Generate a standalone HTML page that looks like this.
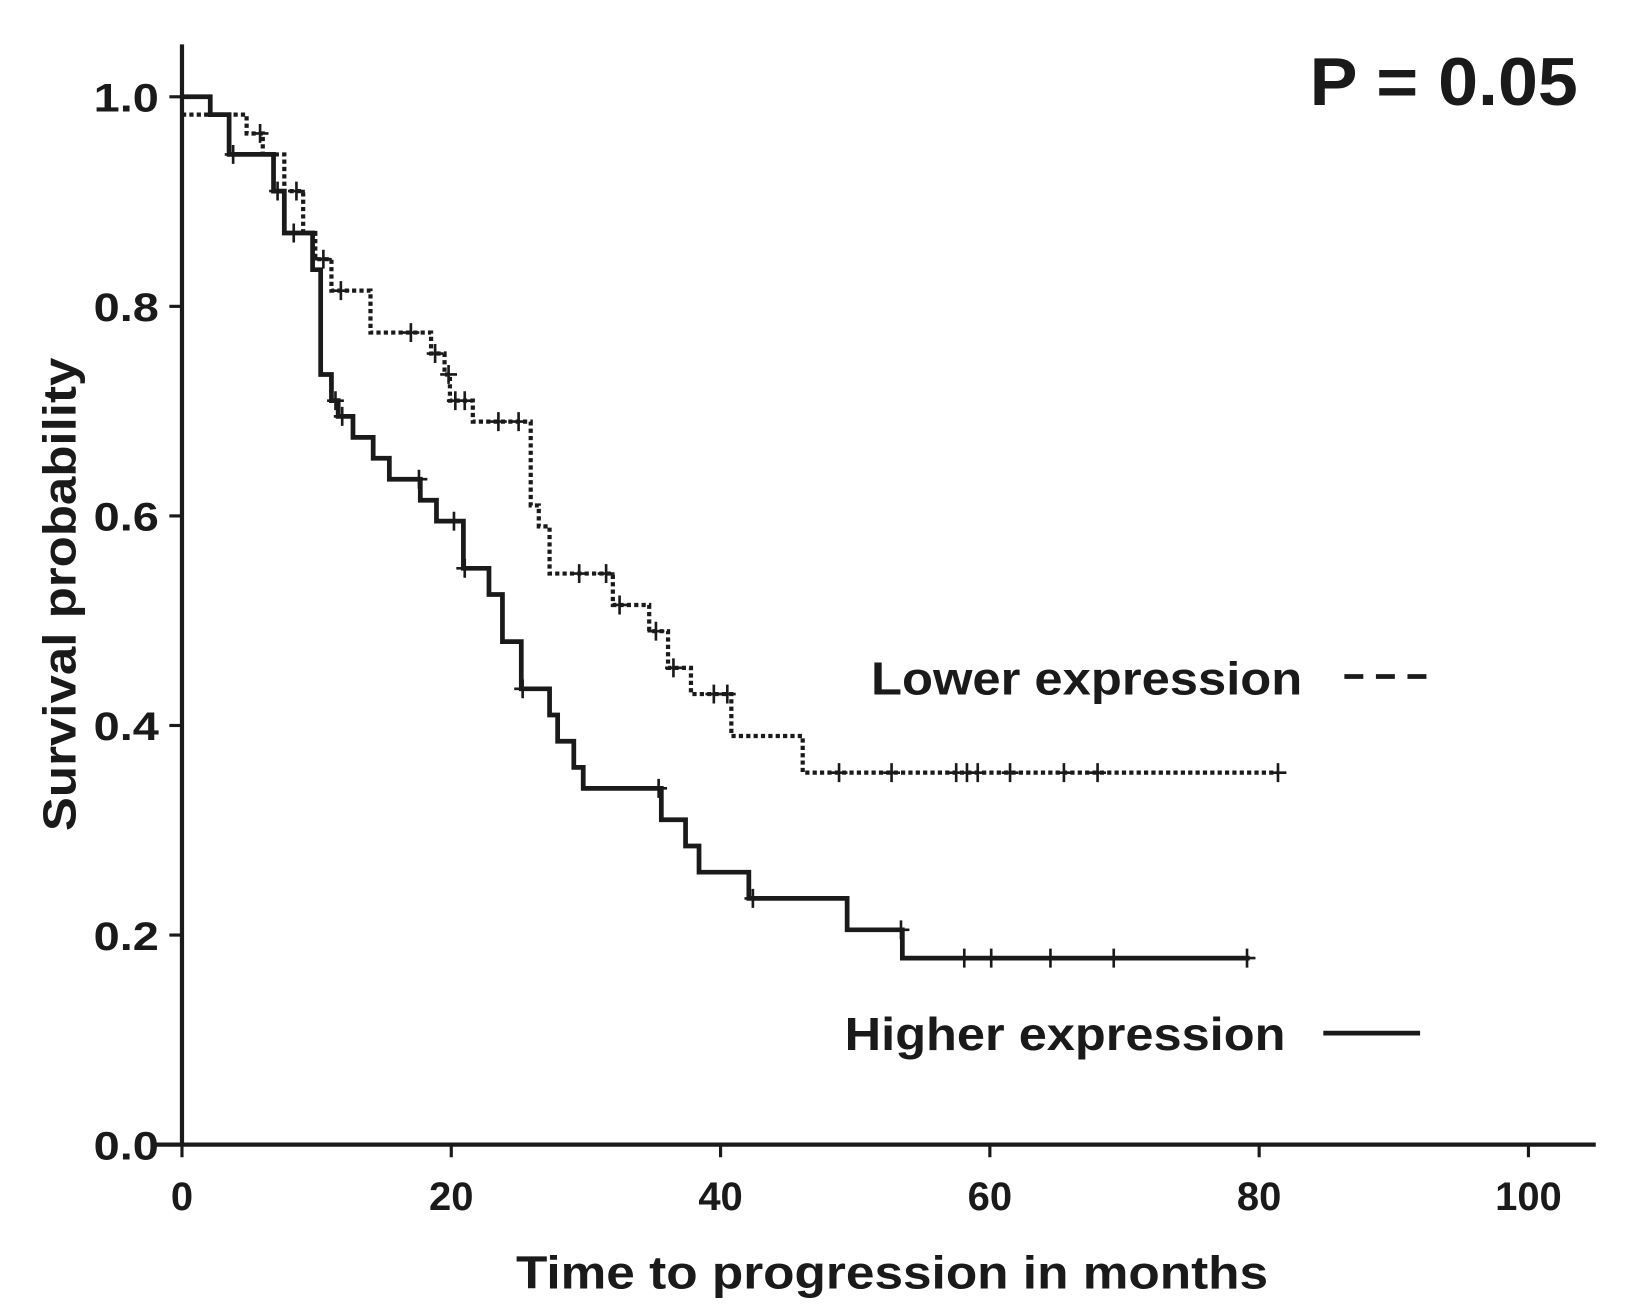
<!DOCTYPE html>
<html><head><meta charset="utf-8"><style>
html,body{margin:0;padding:0;background:#fff;}
svg{display:block;}
text{font-family:"Liberation Sans",Arial,sans-serif;fill:#1a1a1a;}
</style></head><body>
<svg id="chart" width="1641" height="1314" viewBox="0 0 1560 1249" preserveAspectRatio="none" xmlns="http://www.w3.org/2000/svg">
<g id="axes"></g>
<g id="series"></g>
<text x="1245" y="100" font-size="64" font-weight="bold" textLength="255" lengthAdjust="spacingAndGlyphs">P = 0.05</text>
<text transform="translate(72,565) rotate(-90)" text-anchor="middle" font-size="44" font-weight="bold" textLength="450" lengthAdjust="spacingAndGlyphs">Survival probability</text>
<text x="848" y="1225" text-anchor="middle" font-size="44" font-weight="bold" textLength="715" lengthAdjust="spacingAndGlyphs">Time to progression in months</text>
<g>
<text x="828" y="660" font-size="44" font-weight="bold" textLength="410" lengthAdjust="spacingAndGlyphs">Lower expression</text>
<line x1="1278" y1="643" x2="1365" y2="643" stroke="#1a1a1a" stroke-width="4.5" stroke-dasharray="18,12"/>
</g>
<g>
<text x="803" y="998" font-size="44" font-weight="bold" textLength="419" lengthAdjust="spacingAndGlyphs">Higher expression</text>
<line x1="1258" y1="982" x2="1350" y2="982" stroke="#1a1a1a" stroke-width="4.5"/>
</g>
</svg>
<script>
const xTicks=[0,20,40,60,80,100];
const yTicks=[0,0.2,0.4,0.6,0.8,1.0];
const yTickLabels=["0.0","0.2","0.4","0.6","0.8","1.0"];
const higherTimes=[0,2.1,3.5,6.8,7.6,9.7,10.3,11.1,11.6,12.7,14.2,15.4,17.7,18.9,20.9,22.8,23.8,25.2,27.3,27.9,29.1,29.8,35.6,37.4,38.4,42.1,49.4,53.5];
const higherSurv=[1.0,0.983,0.945,0.91,0.87,0.835,0.735,0.71,0.695,0.675,0.655,0.635,0.615,0.595,0.55,0.525,0.48,0.435,0.41,0.385,0.36,0.34,0.31,0.285,0.26,0.235,0.205,0.178];
const higherEnd=79.3;
const higherCensor=[3.8,7.1,8.3,11.4,11.9,17.6,20.2,21,25.3,35.4,42.4,53.4,58.1,60.1,64.5,69.2,79.1];
const lowerTimes=[0,4.8,6,7.6,9,9.9,11.1,14,18.5,19.5,19.9,21.6,25.9,26.5,27.3,32,34.7,36.1,37.8,40.8,46.1];
const lowerSurv=[0.983,0.965,0.945,0.91,0.87,0.845,0.815,0.775,0.755,0.735,0.71,0.69,0.61,0.59,0.545,0.515,0.49,0.455,0.43,0.39,0.355];
const lowerEnd=81.4;
const lowerCensor=[5.8,8.5,10.5,11.8,17,18.8,19.8,20.3,21,23.5,25,29.5,31.5,32.5,35.2,36.5,39.5,40.5,48.8,52.7,57.5,58.3,59.1,61.5,65.5,68,81.4];

const NS="http://www.w3.org/2000/svg";
const X=t=>173+t*12.8, Y=s=>1088-s*996;
function mk(tag,attrs,parent){const e=document.createElementNS(NS,tag);for(const k in attrs)e.setAttribute(k,attrs[k]);parent.appendChild(e);return e;}
const axes=document.getElementById('axes'), series=document.getElementById('series');
let e=mk('line',{x1:X(0),y1:Y(1.05),x2:X(0),y2:Y(0),stroke:'#1a1a1a','stroke-width':4},axes);


e=mk('line',{x1:X(-2),y1:Y(0),x2:X(105),y2:Y(0),stroke:'#1a1a1a','stroke-width':4},axes);


xTicks.forEach(t=>{
 mk('line',{x1:X(t),y1:Y(0),x2:X(t),y2:Y(0)+12,stroke:'#1a1a1a','stroke-width':3},axes);
 const tx=mk('text',{x:X(t),y:1150,'text-anchor':'middle','font-size':38,'font-weight':'bold'},axes);
 tx.textContent=t;
 
 
});
yTicks.forEach((v,i)=>{
 mk('line',{x1:X(0)-12,y1:Y(v),x2:X(0),y2:Y(v),stroke:'#1a1a1a','stroke-width':3},axes);
 const tx=mk('text',{x:X(0)-22,y:Y(v)+14,'text-anchor':'end','font-size':38,'font-weight':'bold','textLength':62,'lengthAdjust':'spacingAndGlyphs'},axes);
 tx.textContent=yTickLabels[i];
 
 
});
function stepPath(ts,ss,end){let d=`M${X(ts[0])},${Y(ss[0])}`;for(let i=1;i<ts.length;i++){d+=` H${X(ts[i])} V${Y(ss[i])}`;}d+=` H${X(end)}`;return d;}
function survAt(ts,ss,t){let s=ss[0];for(let i=0;i<ts.length;i++)if(ts[i]<=t)s=ss[i];return s;}
function drawSeries(ts,ss,end,cens,dash,name){
 const g=mk('g',{},series);
 
 
 const p=mk('path',{d:stepPath(ts,ss,end),fill:'none',stroke:'#1a1a1a','stroke-width':dash?4:4.5},g);
 if(dash)p.setAttribute('stroke-dasharray',dash);
 cens.forEach(t=>{const s=survAt(ts,ss,t);
  const c=mk('path',{d:`M${X(t)-8},${Y(s)} H${X(t)+8} M${X(t)},${Y(s)-9} V${Y(s)+9}`,stroke:'#1a1a1a','stroke-width':2.5},g);
  
  
 });
}
drawSeries(higherTimes,higherSurv,higherEnd,higherCensor,null,'higher-expression-curve');
drawSeries(lowerTimes,lowerSurv,lowerEnd,lowerCensor,'4,3','lower-expression-curve');
</script>
</body></html>
